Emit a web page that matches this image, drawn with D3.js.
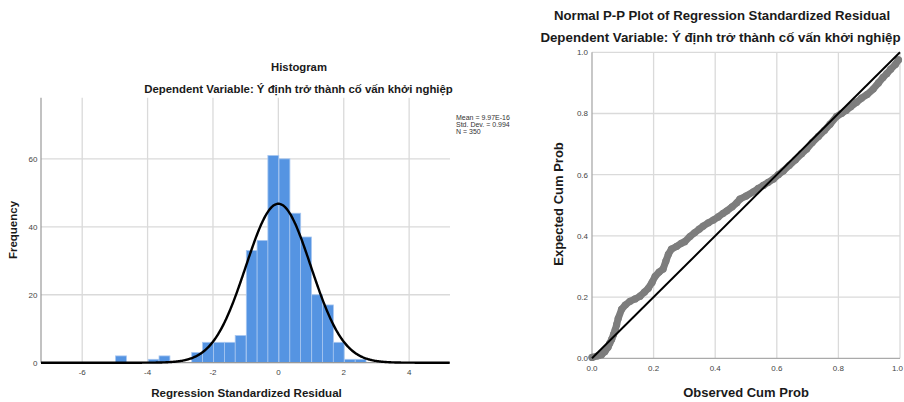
<!DOCTYPE html>
<html>
<head>
<meta charset="utf-8">
<script src="https://cdn.jsdelivr.net/npm/d3@7"></script>
<style>
  body { margin: 0; background: #fff; }
  text { font-family: "Liberation Sans", Arial, sans-serif; }
</style>
</head>
<body>
<script>
// ---- data ----
// histogram bins (lower edge, regression standardized residual) and frequencies
const histBinLow = [-4.98, -3.98, -3.65, -2.65, -2.32, -1.98, -1.65, -1.32, -0.98, -0.65, -0.32, 0.02, 0.35, 0.68, 1.02, 1.35, 1.68, 2.02, 2.35];
const histCounts = [2, 1, 2, 3, 6, 6, 6, 8, 33, 36, 61, 60, 44, 37, 20, 17, 6, 1, 1];
const histBinWidth = 0.333;
const histXTicks = [-6, -4, -2, 0, 2, 4];
const histYTicks = [0, 20, 40, 60];
const statMean = 9.97e-16, statSd = 0.994, statN = 350;
const legendLines = ["Mean = 9.97E-16", "Std. Dev. = 0.994", "N = 350"];

// P-P plot points: observed cum prob vs expected cum prob
const ppObserved = [0.000, 0.019, 0.031, 0.042, 0.052, 0.058, 0.064, 0.070, 0.075, 0.080, 0.085, 0.096, 0.108, 0.123, 0.140, 0.156, 0.170, 0.183, 0.195, 0.205, 0.218, 0.231, 0.240, 0.248, 0.258, 0.275, 0.290, 0.301, 0.318, 0.333, 0.348, 0.361, 0.378, 0.394, 0.410, 0.426, 0.437, 0.455, 0.470, 0.480, 0.500, 0.524, 0.540, 0.556, 0.572, 0.589, 0.605, 0.621, 0.640, 0.660, 0.680, 0.697, 0.715, 0.735, 0.755, 0.773, 0.794, 0.810, 0.825, 0.840, 0.859, 0.875, 0.893, 0.913, 0.930, 0.945, 0.957, 0.970, 0.985, 0.995];
const ppExpected = [0.003, 0.008, 0.012, 0.022, 0.036, 0.050, 0.062, 0.078, 0.092, 0.110, 0.130, 0.160, 0.174, 0.186, 0.194, 0.203, 0.216, 0.229, 0.248, 0.268, 0.282, 0.292, 0.318, 0.340, 0.357, 0.366, 0.376, 0.381, 0.398, 0.410, 0.422, 0.432, 0.443, 0.452, 0.462, 0.474, 0.481, 0.495, 0.508, 0.520, 0.530, 0.544, 0.555, 0.565, 0.575, 0.586, 0.600, 0.612, 0.630, 0.648, 0.668, 0.684, 0.705, 0.725, 0.745, 0.765, 0.790, 0.800, 0.810, 0.822, 0.837, 0.850, 0.862, 0.880, 0.900, 0.918, 0.930, 0.945, 0.960, 0.975];
const ppTicks = [0, 0.2, 0.4, 0.6, 0.8, 1.0];

const histTitle = "Histogram";
const depVarTitle = "Dependent Variable: Ý định trở thành cố vấn khởi nghiệp";
const ppTitle = "Normal P-P Plot of Regression Standardized Residual";

const W = 904, H = 402;
const gridColor = "#dadada";
const tickColor = "#444";

let svg = d3.select("body").append("svg")
    .attr("width", W)
    .attr("height", H);

// ================= HISTOGRAM =================
let h = {left: 41, right: 450, top: 97.7, bottom: 362.7};

let hx = d3.scaleLinear().domain([-7.26, 5.25]).range([h.left, h.right]);
let hy = d3.scaleLinear().domain([0, 78]).range([h.bottom, h.top]);

let g1 = svg.append("g");

// grid
g1.selectAll(".vgrid").data(histXTicks).enter().append("line")
    .attr("x1", d => hx(d)).attr("x2", d => hx(d))
    .attr("y1", h.top).attr("y2", h.bottom)
    .attr("stroke", gridColor).attr("stroke-width", 1.3);
g1.selectAll(".hgrid").data(histYTicks.filter(d => d > 0)).enter().append("line")
    .attr("x1", h.left).attr("x2", h.right)
    .attr("y1", d => hy(d)).attr("y2", d => hy(d))
    .attr("stroke", gridColor).attr("stroke-width", 1.3);

// bars
g1.selectAll("rect").data(histCounts).enter().append("rect")
    .attr("x", (d, i) => hx(histBinLow[i]))
    .attr("y", d => hy(d))
    .attr("width", (d, i) => hx(histBinLow[i] + histBinWidth) - hx(histBinLow[i]))
    .attr("height", d => hy(0) - hy(d))
    .attr("fill", "#5594e2")
    .attr("stroke", "#a8c7f0")
    .attr("stroke-width", 0.8);

// axes lines
g1.append("line")
    .attr("x1", h.left).attr("x2", h.left)
    .attr("y1", h.top).attr("y2", h.bottom)
    .attr("stroke", "#999").attr("stroke-width", 1.2);
g1.append("line")
    .attr("x1", h.left).attr("x2", h.right)
    .attr("y1", h.bottom).attr("y2", h.bottom)
    .attr("stroke", "#999").attr("stroke-width", 1.2);

// normal curve from mean / sd / N
let curveXs = d3.range(-7.26, 5.26, 0.02);
let normY = function(x) {
    return statN * histBinWidth * Math.exp(-0.5 * Math.pow((x - statMean) / statSd, 2)) / (statSd * Math.sqrt(2 * Math.PI));
};
g1.append("path")
    .datum(curveXs)
    .attr("fill", "none")
    .attr("stroke", "#000")
    .attr("stroke-width", 2.4)
    .attr("d", d3.line().x(d => hx(d)).y(d => hy(normY(d))));

// tick labels
g1.selectAll(".xt").data(histXTicks).enter().append("text")
    .attr("x", d => hx(d)).attr("y", 374.5)
    .attr("text-anchor", "middle")
    .style("font-size", "8px").attr("fill", tickColor)
    .text(d => d);
g1.selectAll(".yt").data(histYTicks).enter().append("text")
    .attr("x", 37.5).attr("y", d => hy(d) + 2.8)
    .attr("text-anchor", "end")
    .style("font-size", "8px").attr("fill", tickColor)
    .text(d => d);

// titles
g1.append("text")
    .attr("x", 299).attr("y", 70.5)
    .attr("text-anchor", "middle")
    .style("font-size", "11.3px").style("font-weight", "bold").attr("fill", "#1a1a1a")
    .text(histTitle);
g1.append("text")
    .attr("x", 298.5).attr("y", 93)
    .attr("text-anchor", "middle")
    .style("font-size", "11.4px").style("font-weight", "bold").attr("fill", "#1a1a1a")
    .text(depVarTitle);
g1.append("text")
    .attr("x", 246.5).attr("y", 396.5)
    .attr("text-anchor", "middle")
    .style("font-size", "11.6px").style("font-weight", "bold").attr("fill", "#1a1a1a")
    .text("Regression Standardized Residual");
g1.append("text")
    .attr("transform", "translate(16.5, 230) rotate(-90)")
    .attr("text-anchor", "middle")
    .style("font-size", "11.5px").style("font-weight", "bold").attr("fill", "#1a1a1a")
    .text("Frequency");

// legend
g1.selectAll(".leg").data(legendLines).enter().append("text")
    .attr("x", 456).attr("y", (d, i) => 119.5 + i * 7)
    .style("font-size", "7px").attr("fill", "#333")
    .text(d => d);

// ================= P-P PLOT =================
let p = {left: 592, right: 900, top: 52.3, bottom: 358.3};

let px = d3.scaleLinear().domain([0, 1]).range([p.left, p.right]);
let py = d3.scaleLinear().domain([0, 1]).range([p.bottom, p.top]);

let g2 = svg.append("g");

g2.selectAll(".vgrid").data(ppTicks.filter(d => d > 0)).enter().append("line")
    .attr("x1", d => px(d)).attr("x2", d => px(d))
    .attr("y1", p.top).attr("y2", p.bottom)
    .attr("stroke", gridColor).attr("stroke-width", 1.3);
g2.selectAll(".hgrid").data(ppTicks.filter(d => d > 0)).enter().append("line")
    .attr("x1", p.left).attr("x2", p.right)
    .attr("y1", d => py(d)).attr("y2", d => py(d))
    .attr("stroke", gridColor).attr("stroke-width", 1.3);

g2.append("line")
    .attr("x1", p.left).attr("x2", p.left)
    .attr("y1", p.top).attr("y2", p.bottom)
    .attr("stroke", "#aaa").attr("stroke-width", 1.3);
g2.append("line")
    .attr("x1", p.left).attr("x2", p.right)
    .attr("y1", p.bottom).attr("y2", p.bottom)
    .attr("stroke", "#aaa").attr("stroke-width", 1.3);

// points (dense band)
let ppData = ppObserved.map((d, i) => [d, ppExpected[i]]);
g2.append("path")
    .datum(ppData)
    .attr("fill", "none")
    .attr("stroke", "#7d7d7d")
    .attr("stroke-width", 7)
    .attr("stroke-linecap", "round")
    .attr("stroke-linejoin", "round")
    .attr("d", d3.line().x(d => px(d[0])).y(d => py(d[1])));
g2.selectAll("circle").data(ppData).enter().append("circle")
    .attr("cx", d => px(d[0]))
    .attr("cy", d => py(d[1]))
    .attr("r", 3.6)
    .attr("fill", "#7d7d7d");

// diagonal reference
g2.append("line")
    .attr("x1", px(0)).attr("y1", py(0))
    .attr("x2", px(1)).attr("y2", py(1))
    .attr("stroke", "#000").attr("stroke-width", 2);

// last x label is right-aligned so it stays inside the window
g2.selectAll(".xt").data(ppTicks).enter().append("text")
    .attr("x", d => d === 1 ? W - 1 : px(d)).attr("y", 371)
    .attr("text-anchor", d => d === 1 ? "end" : "middle")
    .style("font-size", "8px").attr("fill", tickColor)
    .text(d => d.toFixed(1));
g2.selectAll(".yt").data(ppTicks).enter().append("text")
    .attr("x", 588).attr("y", d => py(d) + 2.8)
    .attr("text-anchor", "end")
    .style("font-size", "8px").attr("fill", tickColor)
    .text(d => d.toFixed(1));

g2.append("text")
    .attr("x", 722).attr("y", 19.5)
    .attr("text-anchor", "middle")
    .style("font-size", "13.2px").style("font-weight", "bold").attr("fill", "#1a1a1a")
    .text(ppTitle);
g2.append("text")
    .attr("x", 720.5).attr("y", 42)
    .attr("text-anchor", "middle")
    .style("font-size", "13.3px").style("font-weight", "bold").attr("fill", "#1a1a1a")
    .text(depVarTitle);
g2.append("text")
    .attr("x", 746).attr("y", 397)
    .attr("text-anchor", "middle")
    .style("font-size", "13px").style("font-weight", "bold").attr("fill", "#1a1a1a")
    .text("Observed Cum Prob");
g2.append("text")
    .attr("transform", "translate(562.5, 204) rotate(-90)")
    .attr("text-anchor", "middle")
    .style("font-size", "13px").style("font-weight", "bold").attr("fill", "#1a1a1a")
    .text("Expected Cum Prob");
</script>
</body>
</html>
